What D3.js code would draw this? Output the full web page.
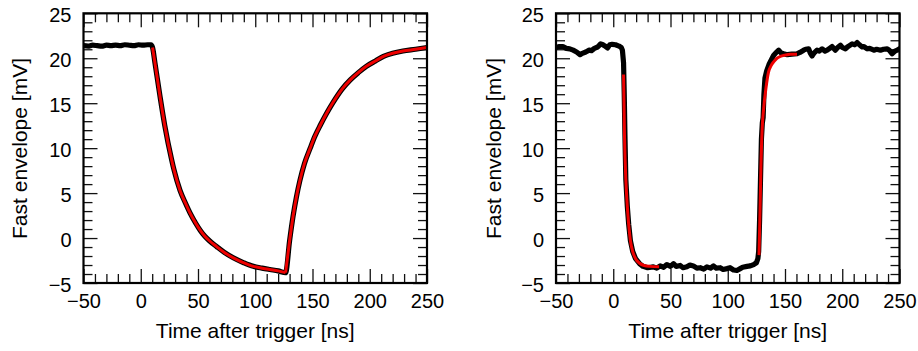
<!DOCTYPE html>
<html><head><meta charset="utf-8">
<script src="https://cdn.jsdelivr.net/npm/d3@7"></script>
<style>body{margin:0;background:#fff}svg{display:block}</style>
</head><body><svg id="c" width="918" height="351"></svg>
<script>
// ---- tick labels / axes
const xTickLabels = [-50, 0, 50, 100, 150, 200, 250];
const yTickLabels = [-5, 0, 5, 10, 15, 20, 25];
const xLabel = "Time after trigger [ns]";
const yLabel = "Fast envelope [mV]";

// ---- left panel: measured envelope (black) and fit (red)
const leftDataT = [-50,-46,-42,-38,-34,-30,-26,-22,-18,-14,
  -10,-6,-2,2,6,9,10.3,12.5,16.9,21,
  27,29,34.3,39,43,48,52,56,60,66.3,
  73,80.8,90,98.3,106,112.8,120,126.5,130,133,
  136,139,143,148,152,157,162,168,176,183,
  190,197,205,212,220,229,240,250];
const leftDataV = [21.4,21.35,21.45,21.4,21.35,21.45,21.4,21.45,21.4,21.5,
  21.45,21.4,21.5,21.45,21.5,21.5,21.2,19.4,15.7,12.5,
  8.7,7.6,5.3,3.9,2.8,1.65,0.85,0.2,-0.3,-0.95,
  -1.6,-2.2,-2.75,-3.15,-3.35,-3.5,-3.65,-3.85,-0.3,2.4,
  4.6,6.4,8.3,10.0,11.3,12.6,13.8,15.1,16.6,17.6,
  18.4,19.1,19.7,20.2,20.55,20.8,21.0,21.2];
const leftFitDecayT = [10.3,12.5,16.9,21,27,29,34.3,39,43,48,52,56,60,66.3,73,80.8,90,98.3,106,112.8,120,126.5];
const leftFitDecayV = [21.2,19.4,15.7,12.5,8.7,7.6,5.3,3.9,2.8,1.65,0.85,0.2,-0.3,-0.95,-1.6,-2.2,-2.75,-3.15,-3.35,-3.5,-3.65,-3.85];
const leftFitRiseT = [126.5,130,133,136,139,143,148,152,157,162,168,176,183,190,197,205,212,220,229,240,250];
const leftFitRiseV = [-3.85,-0.3,2.4,4.6,6.4,8.3,10.0,11.3,12.6,13.8,15.1,16.6,17.6,18.4,19.1,19.7,20.2,20.55,20.8,21.0,21.2];

// ---- right panel: measured envelope (black) and fits (red)
const rightDataT = [-50,-47,-44,-41,-38,-35,-32,-29,-27,-24,
  -21,-19,-16.5,-13.6,-11,-9,-7.7,-5,-3,-1,
  2,5,7,8,9,9.6,10.2,11,12.3,13.5,
  15,17,19.5,23,26,30,35,38,41,44,
  46.8,50,52.6,55,58.5,61,64.3,67,70,73,
  76,79,81.8,85,87.6,90,93.4,96,99.3,102,
  105,108,110.9,113,116.8,119.7,122.6,125,126.3,127,
  127.8,128.6,129.4,130.2,130.9,131.6,132.5,134,136,138,
  140,142,144.5,146.5,148.8,152,156,160.5,163,166.3,
  168,170.7,172,173.6,175.5,178,180,182.4,185,186.8,
  189,191.1,194,196,198.4,200,202.8,205,208.6,211,
  213,215,217.4,219,221.8,224,227.6,230,233.4,236,
  239.3,241,243.6,246,248,250];
const rightDataV = [21.2,21.3,21.3,21.1,21.05,20.9,20.7,20.4,20.55,20.7,
  20.9,20.85,21.1,21.25,21.6,21.5,21.4,21.15,21.5,21.55,
  21.5,21.35,21.2,20.9,19.5,16,11.5,6.5,3.5,1.5,
  -0.3,-1.5,-2.3,-2.85,-3.15,-3.3,-3.2,-3.35,-3.1,-3.25,
  -2.95,-3.15,-2.85,-3.15,-3.05,-3.3,-3.2,-3.0,-3.1,-3.35,
  -3.3,-3.45,-3.2,-3.35,-3.1,-3.35,-3.3,-3.5,-3.4,-3.3,
  -3.55,-3.6,-3.4,-3.25,-3.15,-3.1,-2.95,-2.75,-2.3,-1.5,
  2.0,6.5,11.0,12.8,13.4,16.0,17.8,18.6,19.3,19.8,
  20.3,20.6,20.9,20.6,20.5,20.4,20.45,20.5,20.65,20.9,
  21.0,21.05,20.6,20.25,20.6,20.9,20.8,21.05,20.8,20.9,
  21.1,21.3,20.9,21.2,21.45,21.2,21.05,21.3,21.6,21.5,
  21.75,21.5,21.25,21.3,21.05,21.1,20.9,21.0,20.9,21.0,
  21.05,20.9,20.5,20.8,20.9,21.05];
const rightFitDecayT = [9,9.8,11,12.3,13.5,15,17,19.5,23,27,32,40];
const rightFitDecayV = [18.2,11.5,6.5,3.5,1.5,-0.3,-1.5,-2.3,-2.8,-3.05,-3.15,-3.2];
const rightFitRiseT = [127.3,128.2,129,130,131.5,133.3,135.5,138,140.1,143,145.9,150,154.7,160.5];
const rightFitRiseV = [-1.9,3.0,8.0,12.0,14.6,16.6,18.4,19.2,19.6,20.0,20.2,20.35,20.45,20.45];

const zip = (t, v) => t.map((d, i) => [d, v[i]]);
const FONT = "'Liberation Sans', Arial, Helvetica, sans-serif";
const svg = d3.select("#c");

function panel(id, x0, x1, yl, data, fits, dataCurve) {
  const top = 13.3, bot = 283;
  const x = d3.scaleLinear().domain([-50, 250]).range([x0, x1]);
  const y = d3.scaleLinear().domain([-5, 25]).range([bot, top]);
  const g = svg.append("g");
  const xMinor = d3.range(-50, 251, 10).filter(v => !xTickLabels.includes(v));
  const yMinor = d3.range(-5, 26, 1).filter(v => !yTickLabels.includes(v));
  const styleAxis = (sel) => {
    sel.select(".domain").remove();
    sel.selectAll(".tick line").attr("stroke", "#111").attr("stroke-width", 1.3);
    sel.selectAll("text").attr("font-family", FONT).attr("font-size", 20).attr("fill", "#000");
  };
  g.append("g").attr("transform", `translate(0,${bot})`)
    .call(d3.axisBottom(x).tickValues(xTickLabels).tickSizeInner(-14).tickSizeOuter(0).tickPadding(11).tickFormat(d3.format("")))
    .call(styleAxis);
  g.append("g").attr("transform", `translate(0,${bot})`)
    .call(d3.axisBottom(x).tickValues(xMinor).tickSizeInner(-9).tickSizeOuter(0).tickFormat(""))
    .call(styleAxis);
  g.append("g").attr("transform", `translate(0,${top})`)
    .call(d3.axisTop(x).tickValues(xTickLabels).tickSizeInner(-14).tickSizeOuter(0).tickFormat(""))
    .call(styleAxis);
  g.append("g").attr("transform", `translate(0,${top})`)
    .call(d3.axisTop(x).tickValues(xMinor).tickSizeInner(-9).tickSizeOuter(0).tickFormat(""))
    .call(styleAxis);
  const ya = g.append("g").attr("transform", `translate(${x0},0)`)
    .call(d3.axisLeft(y).tickValues(yTickLabels).tickSizeInner(-14).tickSizeOuter(0).tickPadding(12).tickFormat(d3.format("")))
    .call(styleAxis);
  ya.selectAll("text").attr("dy", "0.42em");
  g.append("g").attr("transform", `translate(${x0},0)`)
    .call(d3.axisLeft(y).tickValues(yMinor).tickSizeInner(-9).tickSizeOuter(0).tickFormat(""))
    .call(styleAxis);
  g.append("g").attr("transform", `translate(${x1},0)`)
    .call(d3.axisRight(y).tickValues(yTickLabels).tickSizeInner(-14).tickSizeOuter(0).tickFormat(""))
    .call(styleAxis);
  g.append("g").attr("transform", `translate(${x1},0)`)
    .call(d3.axisRight(y).tickValues(yMinor).tickSizeInner(-9).tickSizeOuter(0).tickFormat(""))
    .call(styleAxis);

  svg.append("clipPath").attr("id", id).append("rect")
    .attr("x", x0).attr("y", top).attr("width", x1 - x0).attr("height", bot - top);
  const plot = g.append("g").attr("clip-path", `url(#${id})`);
  const line = (c) => d3.line().x(d => x(d[0])).y(d => y(d[1])).curve(c);
  plot.append("path").datum(data).attr("d", line(dataCurve))
    .attr("fill", "none").attr("stroke", "#000").attr("stroke-width", 5.2)
    .attr("stroke-linejoin", "round").attr("stroke-linecap", "round");
  fits.forEach(f => {
    plot.append("path").datum(f).attr("d", line(d3.curveMonotoneX))
      .attr("fill", "none").attr("stroke", "#ee0000").attr("stroke-width", 3)
      .attr("stroke-linejoin", "round");
  });

  g.append("rect").attr("x", x0).attr("y", top).attr("width", x1 - x0).attr("height", bot - top)
    .attr("fill", "none").attr("stroke", "#000").attr("stroke-width", 2.2);

  g.append("text").attr("x", (x0 + x1) / 2).attr("y", 338).attr("text-anchor", "middle")
    .attr("font-family", FONT).attr("font-size", 21).text(xLabel);
  g.append("text").attr("transform", `translate(${yl},148.5) rotate(-90)`).attr("text-anchor", "middle")
    .attr("font-family", FONT).attr("font-size", 21).text(yLabel);
}

panel("clipL", 83.5, 427, 26.5, zip(leftDataT, leftDataV),
  [zip(leftFitDecayT, leftFitDecayV), zip(leftFitRiseT, leftFitRiseV)], d3.curveMonotoneX);
panel("clipR", 556, 899.5, 501, zip(rightDataT, rightDataV),
  [zip(rightFitDecayT, rightFitDecayV), zip(rightFitRiseT, rightFitRiseV)], d3.curveLinear);
</script>
</body></html>
